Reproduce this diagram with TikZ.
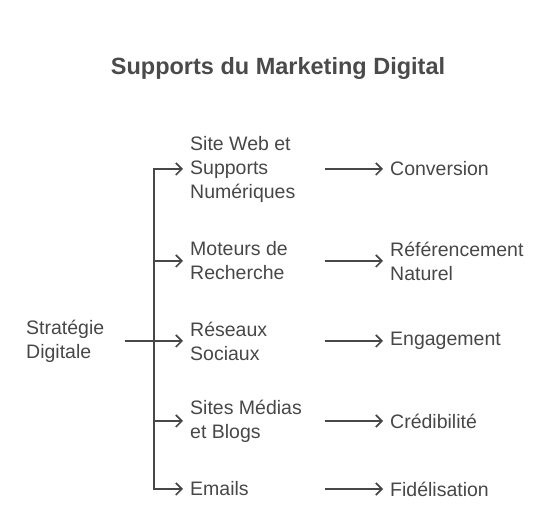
\documentclass[tikz,border=0pt]{standalone}
\usepackage{fontspec}
\setmainfont{Liberation Sans}
\usetikzlibrary{arrows.meta}
\definecolor{ink}{HTML}{474747}
\definecolor{title}{HTML}{4A4A4A}
\begin{document}
\begin{tikzpicture}[x=1pt,y=-1pt,
  lbl/.style={anchor=west,align=left,inner sep=0pt,text=ink,font=\fontsize{19.5}{24}\selectfont},
  conn/.style={draw=ink,line width=1.7pt},
  arr/.style={conn,-{Straight Barb[length=6pt,width=12pt,line width=1.7pt]}}]
\useasboundingbox (0,0) rectangle (555,518);
\node[text=title,font=\fontsize{23.5}{28}\selectfont\bfseries] (t) at (278,68) {Supports du Marketing Digital};
\node[lbl] (s) at (26,341) {Stratégie\\Digitale};
\node[lbl] (m1) at (190,169) {Site Web et\\Supports\\Numériques};
\node[lbl] (m2) at (190,261) {Moteurs de\\Recherche};
\node[lbl] (m3) at (190,341) {Réseaux\\Sociaux};
\node[lbl] (m4) at (190,421) {Sites Médias\\et Blogs};
\node[lbl] (m5) at (190,489) {Emails};
\node[lbl] (r1) at (390,169) {Conversion};
\node[lbl] (r2) at (390,261) {Référencement\\Naturel};
\node[lbl] (r3) at (390,341) {Engagement};
\node[lbl] (r4) at (390,421) {Crédibilité};
\node[lbl] (r5) at (390,489) {Fidélisation};
\coordinate (sx) at (125,341);
\coordinate (tr) at (154,341);
\coordinate (xa) at (325,0);
\draw[conn] (sx) -- (tr);
\foreach \k in {1,...,5}{
  \draw[arr] (tr) |- ([xshift=-7pt]m\k.west);
  \draw[arr] (m\k.west -| xa) -- ([xshift=-7pt]r\k.west);
}
\end{tikzpicture}
\end{document}
